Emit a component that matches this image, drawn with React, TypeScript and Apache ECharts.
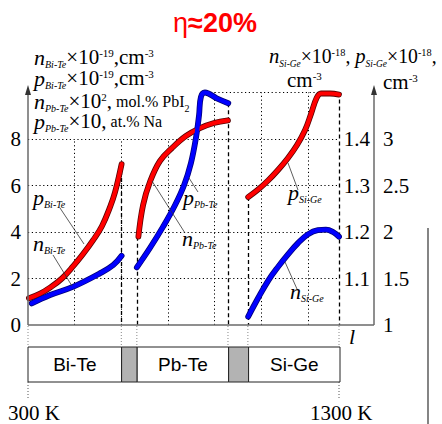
import React, { useEffect, useRef } from "react";
import * as echarts from "echarts";

// ---- data (temperature in K, values in axis units) ----
const tempMin = 300;
const tempMax = 1300;
const leftTicks = [0, 2, 4, 6, 8];
const gridLevels = [2, 4, 6, 8];
const gridTempsLow = [450, 600, 750];
const gridTempsHigh = [900, 1050, 1200];
const segmentEdges = [300, 600, 650, 943, 1007, 1300];
const segmentNames = ["Bi-Te", "", "Pb-Te", "", "Si-Ge"];

// Bi-Te (left axis, x10^19 cm^-3)
const biTeP = [[303, 1.15], [339, 1.35], [371, 1.61], [409, 2.0], [446, 2.54], [477, 3.05], [510, 3.66], [538, 4.26], [564, 5.08], [580, 5.72], [601, 6.92]];
const biTeN = [[312, 0.93], [371, 1.29], [446, 1.65], [531, 2.22], [574, 2.58], [601, 2.98]];
// Pb-Te (left axis)
const pbTeRed = [[655, 3.8], [670, 5.16], [692, 6.15], [724, 7.05], [763, 7.61], [808, 8.13], [853, 8.47], [898, 8.69], [943, 8.8]];
const pbTeBlue = [[650, 2.48], [692, 3.31], [734, 4.22], [773, 5.16], [802, 6.02], [824, 6.97], [840, 8.04], [850, 9.03], [856, 9.81], [869, 10.0], [907, 9.75], [944, 9.54]];
// Si-Ge (right axes)
const siGeP = [[1008, 2.376], [1040, 2.457], [1072, 2.554], [1104, 2.667], [1136, 2.796], [1165, 2.935], [1191, 3.097], [1210, 3.269], [1228, 3.441], [1242, 3.489], [1271, 3.489], [1300, 3.478]];
const siGeN = [[1008, 1.018], [1040, 1.058], [1072, 1.095], [1104, 1.125], [1136, 1.152], [1168, 1.176], [1200, 1.195], [1232, 1.204], [1258, 1.205], [1281, 1.2], [1300, 1.19]];

const serif = "'Liberation Serif', 'Times New Roman', serif";
const sans = "'Liberation Sans', Arial, sans-serif";

const rich = {
  i: { fontFamily: serif, fontStyle: "italic", fontSize: 22, lineHeight: 24, fill: "#000" },
  s: { fontFamily: serif, fontStyle: "italic", fontSize: 10, verticalAlign: "bottom", fill: "#000" },
  r: { fontFamily: serif, fontSize: 21, lineHeight: 24, fill: "#000" },
  u: { fontFamily: serif, fontSize: 11, verticalAlign: "top", padding: [2, 0, 0, 0], fill: "#000" },
  m: { fontFamily: serif, fontSize: 16, fill: "#000" },
  ms: { fontFamily: serif, fontSize: 10, verticalAlign: "bottom", fill: "#000" },
};

function richText(text: string, x: number, y: number, scaleX = 1) {
  return {
    type: "text",
    x,
    y,
    z: 20,
    scaleX,
    silent: true,
    style: { text, rich, align: "left", verticalAlign: "middle", fill: "#000" },
  };
}

function line(x1: number, y1: number, x2: number, y2: number, stroke: string, lineWidth: number, lineDash?: number[]) {
  return {
    type: "line",
    silent: true,
    z: 15,
    shape: { x1, y1, x2, y2 },
    style: { stroke, lineWidth, lineDash },
  };
}

function curve(data: number[][], color: string, outline: string, yAxisIndex: number, w: number) {
  const base = {
    type: "line",
    xAxisIndex: 0,
    yAxisIndex,
    data,
    smooth: 0.4,
    showSymbol: false,
    symbol: "none",
    clip: false,
    silent: true,
  };
  return [
    { ...base, z: 5, lineStyle: { color: outline, width: w + 1.6, cap: "round", join: "round" } },
    { ...base, z: 6, lineStyle: { color, width: w, cap: "round", join: "round" } },
  ];
}

export default function App() {
  const ref = useRef<HTMLDivElement>(null);

  useEffect(() => {
    if (!ref.current) return;
    document.body.style.margin = "0";
    const chart = echarts.init(ref.current, undefined, { renderer: "svg" });

    const lastY = (d: number[][]) => d[d.length - 1][1];
    const firstY = (d: number[][]) => d[0][1];
    const boundaryTops = [lastY(biTeP), firstY(pbTeRed), lastY(pbTeBlue), (firstY(siGeP) - 1) / 0.25, 10];
    const boundaryTemps = segmentEdges.slice(1);

    const gridLines = [
      ...gridLevels.map((v) => [{ coord: [tempMin, v] }, { coord: [tempMax, v] }]),
      ...gridTempsLow.map((k) => [{ coord: [k, 0] }, { coord: [k, 8] }]),
      ...gridTempsHigh.map((k) => [{ coord: [k, 0] }, { coord: [k, 10] }]),
      [{ coord: [900, 10] }, { coord: [tempMax, 10] }],
    ];
    const dashLines = boundaryTemps.map((k, i) => [{ coord: [k, boundaryTops[i]] }, { coord: [k, 0] }]);

    const areas = segmentNames.map((name, i) => [
      {
        xAxis: segmentEdges[i],
        name,
        itemStyle: { color: name ? "#ffffff" : "#b3b3b3", borderColor: "#222", borderWidth: 1 },
      },
      { xAxis: segmentEdges[i + 1] },
    ]);

    const option: any = {
      animation: false,
      grid: [
        { left: 28, right: 103, top: 92.5, bottom: 99 },
        { left: 28, right: 102, top: 347, height: 35 },
      ],
      xAxis: [
        { type: "value", gridIndex: 0, min: tempMin, max: tempMax, show: false },
        { type: "value", gridIndex: 1, min: tempMin, max: tempMax, show: false },
      ],
      yAxis: [
        {
          type: "value", gridIndex: 0, min: 0, max: 10, interval: 2, position: "left",
          axisLine: { show: false }, axisTick: { show: false }, splitLine: { show: false },
          axisLabel: {
            margin: 7, fontFamily: serif, fontSize: 21, color: "#000",
            formatter: (v: number) => (leftTicks.includes(v) ? String(v) : ""),
          },
        },
        {
          type: "value", gridIndex: 0, min: 1, max: 1.5, interval: 0.1, position: "right", offset: 35,
          axisLine: { show: false }, axisTick: { show: false }, splitLine: { show: false },
          axisLabel: {
            inside: true, margin: 4, fontFamily: serif, fontSize: 21, color: "#000",
            formatter: (v: number) => (v < 1.05 || v > 1.45 ? "" : v.toFixed(1)),
          },
        },
        {
          type: "value", gridIndex: 0, min: 1, max: 3.5, interval: 0.5, position: "right", offset: 35,
          axisLine: { show: false }, axisTick: { show: false }, splitLine: { show: false },
          axisLabel: {
            margin: 9, fontFamily: serif, fontSize: 21, color: "#000",
            formatter: (v: number) => (v > 3.25 ? "" : String(v)),
          },
        },
        { type: "value", gridIndex: 1, min: 0, max: 1, show: false },
      ],
      series: [
        {
          type: "line", xAxisIndex: 0, yAxisIndex: 0, data: [], silent: true, z: 2,
          markLine: {
            silent: true, symbol: ["none", "none"], animation: false, label: { show: false },
            lineStyle: { type: [1.2, 2.6], color: "#000", width: 1 },
            data: gridLines,
          },
        },
        {
          type: "line", xAxisIndex: 0, yAxisIndex: 0, data: [], silent: true, z: 3,
          markLine: {
            silent: true, symbol: ["none", "none"], animation: false, label: { show: false },
            lineStyle: { type: [4, 3], color: "#000", width: 1.3 },
            data: dashLines,
          },
        },
        {
          type: "line", xAxisIndex: 1, yAxisIndex: 3, data: [], silent: true,
          markArea: {
            silent: true, animation: false,
            label: { show: true, position: "inside", fontFamily: sans, fontSize: 19, color: "#000" },
            data: areas,
          },
        },
        ...curve(biTeP, "#ff0000", "#5a0000", 0, 4.2),
        ...curve(biTeN, "#0000ff", "#00007a", 0, 4.2),
        ...curve(pbTeRed, "#ff0000", "#5a0000", 0, 4.2),
        ...curve(pbTeBlue, "#0000ff", "#00007a", 0, 4.2),
        ...curve(siGeP, "#ff0000", "#5a0000", 2, 4.2),
        ...curve(siGeN, "#0000ff", "#00007a", 1, 4.2),
      ],
    };
    chart.setOption(option);

    const px = (k: number) => chart.convertToPixel({ xAxisIndex: 0 }, k) as number;
    const py = (v: number) => chart.convertToPixel({ yAxisIndex: 0 }, v) as number;
    const X0 = px(tempMin);
    const X1 = px(tempMax);
    const Y0 = py(0);
    const XR = X1 + 35;
    const axisColor = "#6a6a6a";
    const boxTop = 347;
    const boxBottom = 382;

    const graphic: any[] = [
      // axes
      line(X0, Y0, X0, 93, axisColor, 1.5),
      { type: "polygon", silent: true, z: 15, shape: { points: [[X0, 85], [X0 - 3, 95], [X0 + 3, 95]] }, style: { fill: "#333" } },
      line(X0, Y0, XR, Y0, axisColor, 1.3),
      line(XR, Y0, XR, 93, axisColor, 1.5),
      { type: "polygon", silent: true, z: 15, shape: { points: [[XR, 85], [XR - 3, 95], [XR + 3, 95]] }, style: { fill: "#333" } },
      // dotted connectors under the axis
      ...segmentEdges.map((k) => line(px(k), Y0 + 1, px(k), boxTop, "#888", 1, [1, 2])),
      line(X0, boxBottom, X0, 398, "#555", 1, [1, 2]),
      line(X1, boxBottom, X1, 398, "#555", 1, [1, 2]),
      // right vertical bar
      line(428, 228, 428, 424, "#333", 1.2),
      // title
      {
        type: "text", x: 215, y: 23, z: 20, silent: true,
        style: {
          text: "{a|η}{b|≈20%}", align: "center", verticalAlign: "middle",
          rich: {
            a: { fontFamily: sans, fontSize: 27, fill: "#ff0000" },
            b: { fontFamily: sans, fontSize: 27, fontWeight: "bold", fill: "#ff0000" },
          },
        },
      },
      // left axis titles
      richText("{i|n}{s|Bi-Te}{r|×10}{u|-19}{r|,cm}{u|-3}", 34, 57),
      richText("{i|p}{s|Bi-Te}{r|×10}{u|-19}{r|,cm}{u|-3}", 34, 78),
      richText("{i|n}{s|Pb-Te}{r|×10}{u|2}{r|,}{m| mol.% PbI}{ms|2}", 34, 101),
      richText("{i|p}{s|Pb-Te}{r|×10}{r|,}{m| at.% Na}", 34, 121),
      // right axis titles
      richText("{i|n}{s|Si-Ge}{r|×10}{u|-18}{r|, }{i|p}{s|Si-Ge}{r|×10}{u|-18}{r|,}", 269, 56, 0.94),
      richText("{r|cm}{u|-3}", 287, 80),
      richText("{r|cm}{u|-3}", 383, 82),
      // curve labels
      richText("{i|p}{s|Bi-Te}", 33, 197),
      richText("{i|n}{s|Bi-Te}", 33, 243),
      richText("{i|p}{s|Pb-Te}", 183, 197),
      richText("{i|n}{s|Pb-Te}", 182, 238),
      richText("{i|p}{s|Si-Ge}", 288, 192),
      richText("{i|n}{s|Si-Ge}", 290, 291),
      // leader lines
      line(60, 208, 84, 244, "#333", 0.8),
      line(53, 255, 72, 286, "#333", 0.8),
      line(198, 192, 189, 178, "#333", 0.8),
      line(152, 181, 185, 233, "#333", 0.8),
      line(288, 163, 298, 190, "#333", 0.8),
      line(285, 262, 297, 289, "#333", 0.8),
      // l and temperature labels
      {
        type: "text", x: 349, y: 336, z: 20, silent: true,
        style: { text: "l", fontFamily: serif, fontStyle: "italic", fontSize: 22, fill: "#000", align: "left", verticalAlign: "middle" },
      },
      {
        type: "text", x: 8, y: 413, z: 20, silent: true,
        style: { text: "300 K", fontFamily: serif, fontSize: 21, fill: "#000", align: "left", verticalAlign: "middle" },
      },
      {
        type: "text", x: 310, y: 413, z: 20, silent: true,
        style: { text: "1300 K", fontFamily: serif, fontSize: 21, fill: "#000", align: "left", verticalAlign: "middle" },
      },
    ];
    chart.setOption({ graphic });

    return () => chart.dispose();
  }, []);

  return <div ref={ref} style={{ width: 442, height: 424 }} />;
}
